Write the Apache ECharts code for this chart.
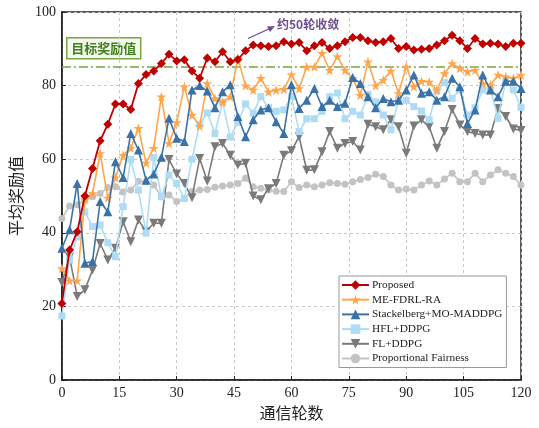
<!DOCTYPE html>
<html><head><meta charset="utf-8">
<script src="https://cdn.jsdelivr.net/npm/echarts@6/dist/echarts.min.js"></script>
<style>html,body{margin:0;padding:0;background:#fff}#c{width:539px;height:428px}</style>
</head><body><div id="c"></div>
<script>
var rounds=[0,2,4,6,8,10,12,14,16,18,20,22,24,26,28,30,32,34,36,38,40,42,44,46,48,50,52,54,56,58,60,62,64,66,68,70,72,74,76,78,80,82,84,86,88,90,92,94,96,98,100,102,104,106,108,110,112,114,116,118,120];
var proposed=[20.8,35.3,40.3,50,57.5,65,69.5,75,75,73.5,80.6,83,84,86,88.5,86.7,87,84,82,87.5,86.5,89.2,86.5,87.1,89.5,91,90.8,90.6,90.8,91.9,91.3,91.7,89.5,90.8,91.7,90.1,90.8,91.9,93.1,93.1,92.2,91.7,91.9,92.8,90.1,90.6,89.7,89.9,90.1,91,92.2,93.7,92.2,90.1,92.8,91.3,91.5,91.3,90.6,91.5,91.5];
var meFdrl=[30.3,27,27,49,50.7,61.6,49.5,55,61.1,63,68.4,59,63,77,64.3,70,79.7,72,69,80.6,76.5,75.5,77,87.4,80,78.8,82,78.3,78.8,79,83,79.2,85.1,85.1,88.8,84.2,87.9,84.2,82,77.4,86.5,80,81.5,84,77.9,85.1,79.7,81.2,81,78.8,83.3,86,84.7,83.8,84.2,80.6,80.2,82.9,82.4,82,82.9];
var stackelberg=[35.8,40.8,53.4,31.7,32.2,48.5,45.7,59.3,55,67,62.5,54.3,56,60.5,71.1,65.7,64.8,78.8,80,78.5,74,78.3,80.2,71.6,66.1,70.7,73.4,74,70.2,67,80.2,73.8,76,79.2,74.3,76,74.3,75.2,82.2,80.6,77,74,76.5,75.6,76,78.8,82.9,77.9,78.3,76,77,82,79.7,69.7,73.4,82.9,78.8,77,81.2,81.2,79.2];
var hflDdpg=[17.4,32.6,38.9,45.7,41.7,42.1,37.3,33.5,47.1,59.9,51.6,39.9,60.5,49.8,55.7,53.4,49.3,60,69.5,72.6,67,75.5,66,70,75,72.5,77,74,73,73.4,77,67.5,71,71,73,77,78,71,73,72,77.6,75.6,72,68,76,76,74.3,73.1,70.7,78.5,80.8,76.5,78.8,72,74,78.8,79.2,71.1,81.2,78.8,74.1];
var flDdpg=[26.5,33.4,22.7,24.5,29.9,37.1,32.6,35.8,43,37.6,43.5,40.3,42.6,42.6,59.9,56,53.4,49.5,60.2,54.1,63.4,64.3,61.1,58.4,58.9,50,49,52,53.4,61.1,62.3,66.1,57,57.1,62,67.5,63,64.3,64.8,62.5,69.5,68.8,68,70.7,68.8,61.6,69,70.7,68.8,63,67.5,73.5,69.3,67.5,67,66.6,66.6,73.8,71.6,68.2,67.8];
var propFair=[43.9,47.3,47.6,48.9,49.8,50.7,52.3,52.5,51.1,51.6,54,53.9,53,49.8,50.3,48.5,49.3,51.2,51.6,51.8,52.4,52.7,53,53.4,54.8,52.5,52.1,51.6,51.3,51.2,53.9,52.3,53,52.5,53,53.6,53.4,53.2,53.9,54.5,55,55.9,55.3,53,51.6,51.9,51.6,53,54.1,53,54.6,56.2,53.9,53.9,56.2,53.9,55.7,57.1,56.2,55.3,53];
var seriesNames=['Proposed','ME-FDRL-RA','Stackelberg+MO-MADDPG','HFL+DDPG','FL+DDPG','Proportional Fairness'];
var xTicks=[0,15,30,45,60,75,90,105,120];
var yTicks=[0,20,40,60,80,100];
var targetValue=85;
var targetLabel='目标奖励值';
var convLabel='约50轮收敛';
var xName='通信轮数', yName='平均奖励值';

var STAR='path://M50,0 L61.8,35.4 L99,35.4 L69,57.3 L80.4,92.7 L50,70.8 L19.6,92.7 L31,57.3 L1,35.4 L38.2,35.4 Z';
var TRI_DOWN='path://M0,0 L100,0 L50,87 Z';
function pts(v){return rounds.map(function(r,i){return [r,v[i]];});}
var styles=[
 {c:'#c00000',s:'diamond',sz:9,w:1.8,z:10},
 {c:'#ffa64d',s:STAR,sz:10,w:1.6,z:6},
 {c:'#3a72a8',s:'triangle',sz:9,w:1.6,z:7},
 {c:'#aedcf5',s:'rect',sz:7,w:1.6,z:5},
 {c:'#7a7a7a',s:TRI_DOWN,sz:9,w:1.6,z:4},
 {c:'#c3c3c3',s:'circle',sz:7,w:1.6,z:3}
];
var datas=[proposed,meFdrl,stackelberg,hflDdpg,flDdpg,propFair];
var series=datas.map(function(d,i){
  var st=styles[i];
  return {name:seriesNames[i],type:'line',data:pts(d),symbol:st.s,symbolSize:st.sz,showAllSymbol:true,
    z:st.z,lineStyle:{color:st.c,width:st.w},itemStyle:{color:st.c},emphasis:{disabled:true},animation:false};
});
series[0].markLine={silent:true,symbol:'none',animation:false,label:{show:false},
  lineStyle:{color:'#78a43c',width:1.6,type:[9,3,2,3]},data:[{yAxis:targetValue}]};
var chart=echarts.init(document.getElementById('c'),null,{renderer:'canvas'});
chart.setOption({
 animation:false,
 backgroundColor:'#fff',
 grid:{left:57,right:18,top:12,bottom:48,show:true,borderColor:'#222',borderWidth:1.5,backgroundColor:'transparent'},
 xAxis:{type:'value',min:0,max:120,interval:15,name:xName,nameLocation:'middle',nameGap:25,
   nameTextStyle:{fontFamily:'Noto Sans CJK SC',fontSize:16,color:'#222'},
   axisLine:{show:true,lineStyle:{color:'#222',width:1.5}},
   axisTick:{show:true,inside:true,length:4,lineStyle:{color:'#222'}},
   axisLabel:{fontFamily:'Liberation Serif',fontSize:14,color:'#222',margin:6},
   splitLine:{show:true,lineStyle:{color:'#c8c8c8',type:[3,3],width:1}}},
 yAxis:{type:'value',min:0,max:100,interval:20,name:yName,nameLocation:'middle',nameGap:25,nameRotate:90,
   nameTextStyle:{fontFamily:'Noto Sans CJK SC',fontSize:16,color:'#222'},
   axisLine:{show:true,lineStyle:{color:'#222',width:1.5}},
   axisTick:{show:true,inside:true,length:4,lineStyle:{color:'#222'}},
   axisLabel:{fontFamily:'Liberation Serif',fontSize:14,color:'#222',margin:6},
   splitLine:{show:true,lineStyle:{color:'#c8c8c8',type:[3,3],width:1}}},
 legend:{orient:'vertical',left:339,top:276,padding:[3,4,3,2],itemGap:2.7,itemWidth:27,itemHeight:12,
   borderColor:'#999',borderWidth:1,backgroundColor:'#fff',
   textStyle:{fontFamily:'Liberation Serif',fontSize:11.3,lineHeight:12,color:'#222',padding:[0,0,0,-2]},
   data:seriesNames},
 series:series,
 graphic:[
  {type:'group',left:66,top:37,z:100,children:[
    {type:'rect',shape:{x:0,y:0,width:74,height:21},style:{fill:'#f4f8ec',stroke:'#7aa544',lineWidth:1.5}},
    {type:'text',x:37,y:10.5,style:{text:targetLabel,fill:'#3f7f1f',font:'bold 13px "Noto Sans CJK SC"',align:'center',verticalAlign:'middle'}}
  ]},
  {type:'line',z:100,shape:{x1:248,y1:38.5,x2:272,y2:27.5},style:{stroke:'#6b4f8c',lineWidth:1.3}},
  {type:'polygon',z:100,shape:{points:[[275,26],[267,26.5],[270,32]]},style:{fill:'#6b4f8c'}},
  {type:'text',z:100,left:277,top:18,style:{text:convLabel,fill:'#6b4f8c',font:'bold 12px "Noto Sans CJK SC"'}}
 ]
});
</script></body></html>
